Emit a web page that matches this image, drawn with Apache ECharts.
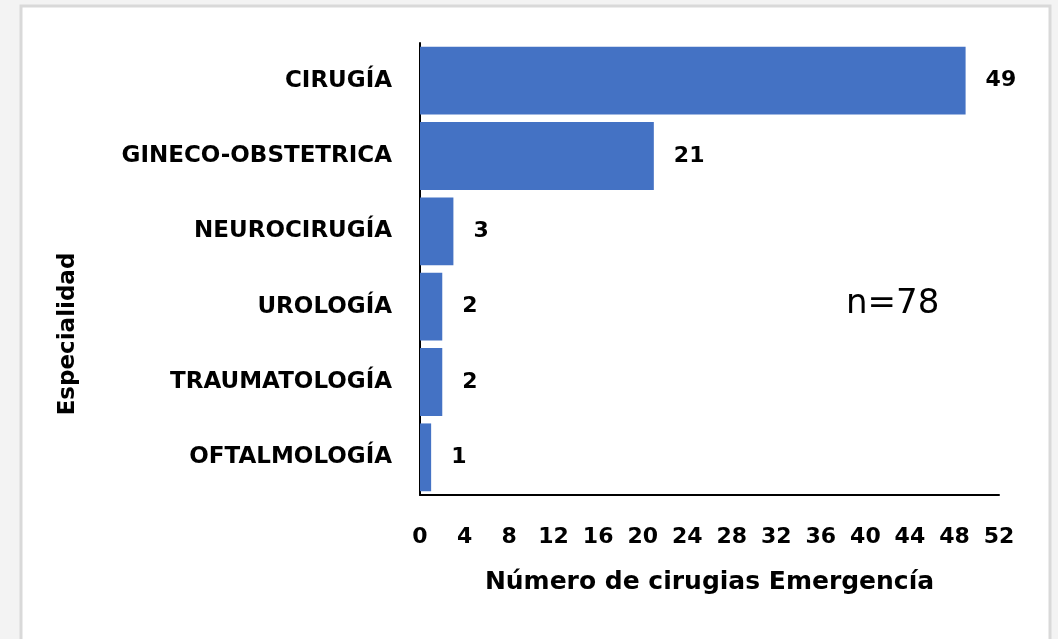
<!DOCTYPE html>
<html>
<head>
<meta charset="utf-8">
<script src="https://cdn.jsdelivr.net/npm/echarts@6/dist/echarts.min.js"></script>
<style>
  html, body { margin: 0; padding: 0; background: #f3f3f3; }
  #main { width: 1058px; height: 639px; }
</style>
</head>
<body>
<div id="main"></div>
<script>
// data
const categories = ["OFTALMOLOGÍA", "TRAUMATOLOGÍA", "UROLOGÍA", "NEUROCIRUGÍA", "GINECO-OBSTETRICA", "CIRUGÍA"];
const values = [1, 2, 2, 3, 21, 49];
const xTitle = "Número de cirugias Emergencía";
const yTitle = "Especialidad";
const noteText = "n=78";

const chart = echarts.init(document.getElementById("main"), null, { renderer: "canvas" });

const font = "'DejaVu Sans', sans-serif";

chart.setOption({
  animation: false,
  graphic: [
    {
      type: "rect",
      shape: { x: 21, y: 6, width: 1029, height: 640 },
      style: { fill: "#ffffff", stroke: "#d9d9d9", lineWidth: 3 },
      z: -10
    },
    {
      type: "text",
      x: 846,
      y: 304,
      style: { text: noteText, font: "34px " + font, fill: "#000", verticalAlign: "middle" }
    },
    {
      type: "text",
      x: 68,
      y: 334,
      rotation: Math.PI / 2,
      style: {
        text: yTitle, font: "bold 23px " + font, fill: "#000",
        align: "center", verticalAlign: "middle"
      }
    }
  ],
  grid: { left: 420, right: 59, top: 43, bottom: 144 },
  xAxis: {
    type: "value",
    min: 0,
    max: 52,
    interval: 4,
    splitLine: { show: false },
    axisLine: { show: true, lineStyle: { color: "#000", width: 2 } },
    axisTick: { show: false },
    axisLabel: { color: "#000", fontFamily: font, fontWeight: "bold", fontSize: 22, margin: 31 },
    name: xTitle,
    nameLocation: "middle",
    nameGap: 75,
    nameTextStyle: { color: "#000", fontFamily: font, fontWeight: "bold", fontSize: 25 }
  },
  yAxis: {
    type: "category",
    data: categories,
    axisLine: { show: true, lineStyle: { color: "#000", width: 2 } },
    axisTick: { show: false },
    axisLabel: { color: "#000", fontFamily: font, fontWeight: "bold", fontSize: 23, margin: 28 }
  },
  series: [{
    type: "bar",
    data: values,
    barCategoryGap: "10%",
    itemStyle: { color: "#4472C4" },
    label: {
      show: true,
      position: "right",
      distance: 20,
      color: "#000",
      fontFamily: font,
      fontWeight: "bold",
      fontSize: 22
    }
  }]
});
</script>
</body>
</html>
